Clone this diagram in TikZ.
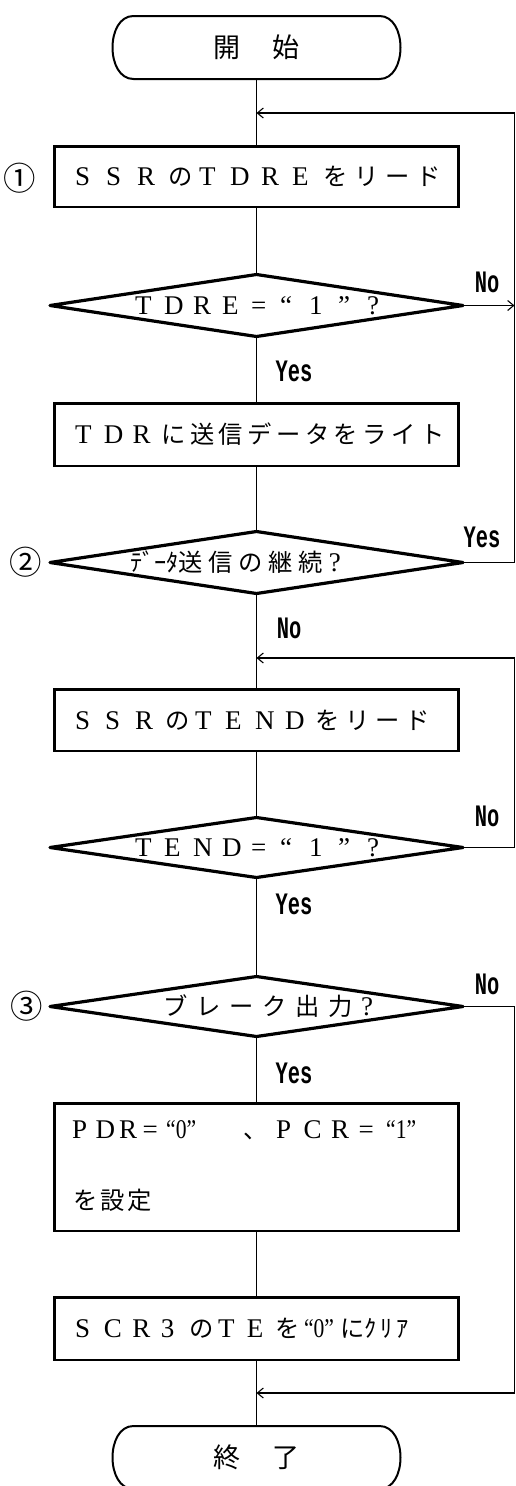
\documentclass[tikz,border=0pt]{standalone}
\usepackage{fontspec}
\usepackage{graphicx}
\usetikzlibrary{shapes.geometric,arrows.meta}
\setmainfont{Liberation Serif}
\newfontfamily\jpfont[Scale=0.9]{Noto Sans CJK JP}
\newfontfamily\ynfam{Liberation Mono}
\newcommand\ynfont{\ynfam\bfseries\fontsize{24}{24}\selectfont}
\newcommand\yn[1]{\scalebox{0.85}[1.3]{#1}}
\newcommand\qt[1]{\scalebox{0.8}[1]{“#1”}}
% automatic switch to the CJK font for CJK characters
\XeTeXinterchartokenstate=1
\newXeTeXintercharclass\CJKclass
\count255="3000
\loop\XeTeXcharclass\count255=\CJKclass\advance\count255 by 1\ifnum\count255<"A000\repeat
\count255="FF00
\loop\XeTeXcharclass\count255=\CJKclass\advance\count255 by 1\ifnum\count255<"FFF0\repeat
\XeTeXinterchartoks 0 \CJKclass = {\jpfont}
\XeTeXinterchartoks 4095 \CJKclass = {\jpfont}
\XeTeXinterchartoks \CJKclass 0 = {\rmfamily}
\XeTeXinterchartoks \CJKclass 4095 = {\rmfamily}
% characters set on a fixed pitch
\newcommand\cells[2]{\begingroup\def\pitch{#1pt}\cellsi#2\relax\endgroup}
\def\cellsi#1{\ifx\relax#1\else\makebox[\pitch][l]{#1}\expandafter\cellsi\fi}
\newcommand\termshape[1]{\draw[termline] ([xshift=21pt]#1.north west) -- ([xshift=-21pt]#1.north east) .. controls ([xshift=7pt]#1.north east) and ([xshift=7pt]#1.south east) .. ([xshift=-21pt]#1.south east) -- ([xshift=21pt]#1.south west) .. controls ([xshift=-7pt]#1.south west) and ([xshift=-7pt]#1.north west) .. cycle;}
\tikzset{
 box/.style={draw, rectangle, line width=2.5pt, minimum width=404pt, inner sep=0pt, outer sep=0pt},
 dia/.style={draw, diamond, line width=3.2pt, line join=round, minimum width=413pt, minimum height=62pt, inner sep=0pt, outer sep=0pt},
 conn/.style={line width=1.1pt},
 arr/.style={conn, -{Straight Barb[length=6pt,width=10pt,line width=1.1pt]}},
 termbox/.style={rectangle, minimum width=288pt, minimum height=63pt, inner sep=0pt, outer sep=0pt, font=\fontsize{30}{30}\selectfont},
 termline/.style={line width=2pt},
 jtext/.style={anchor=west, inner sep=0pt, font=\fontsize{27}{30}\selectfont},
 ynlab/.style={inner sep=0pt, font=\ynfont},
 num/.style={inner sep=0pt, font=\jpfont\fontsize{36}{36}\selectfont},
}
\begin{document}
\begin{tikzpicture}[x=1pt,y=-1pt]
\useasboundingbox (0,0) rectangle (516,1486);
\coordinate (rx) at (514.5,0);
\coordinate (j1) at (256.5,113);
\coordinate (j2) at (256.5,658);
\coordinate (j3) at (256.5,1393);
% shapes
\node[termbox] (start) at (256.5,47.5) {開\hspace{32pt}始};
\termshape{start}
\node[box, minimum height=60.5pt] (b1) at (256.5,176.5) {};
\node[dia] (d1) at (256.5,305.5) {};
\node[box, minimum height=62.5pt] (b2) at (256.5,434.5) {};
\node[dia] (d2) at (256.5,562.5) {};
\node[box, minimum height=61.5pt] (b3) at (256.5,720) {};
\node[dia, minimum height=60pt] (d3) at (256.5,847.5) {};
\node[dia, minimum height=60pt] (d4) at (256.5,1006.5) {};
\node[box, minimum height=127.5pt] (b4) at (256.5,1167) {};
\node[box, minimum height=62.5pt] (b5) at (256.5,1328.5) {};
\node[termbox] (end) at (256.5,1457.5) {終\hspace{32pt}了};
\termshape{end}
% texts
\node[jtext] (t1) at (75,176.5) {\cells{31}{SSRのTDREをリード}};
\node[jtext] (dt1) at (135,305.5) {\cells{29}{TDRE=“1”?}};
\node[jtext] (t2) at (75,434.5) {\cells{28.75}{TDRに送信データをライト}};
\node[jtext] (dt2) at (130,562.5) {ﾃﾞｰﾀ\cells{30}{送信の継続?}};
\node[jtext] (t3) at (75,720) {\cells{30}{SSRのTENDをリード}};
\node[jtext] (dt3) at (135,847.5) {\cells{29}{TEND=“1”?}};
\node[jtext] (dt4) at (163,1006.5) {\cells{33}{ブレーク出力?}};
\node[jtext] (t4a) at (72,1130) {\cells{23.5}{PDR=}\makebox[77pt][l]{\qt{0}}\makebox[33pt][l]{、}\cells{27.5}{PCR=}\qt{1}};
\node[jtext] (t4b) at (73,1200) {\cells{27}{を設定}};
\node[jtext] (t5) at (75,1328.5) {\cells{28.6}{SCR3のTEを{\qt{0}}}\hspace{8pt}に\cells{16}{ｸﾘｱ}};
% step numbers
\node[num] (n1) at (20,178) {①};
\node[num] (n2) at (26,562.5) {②};
\node[num] (n3) at (27,1006.5) {③};
% connectors
\draw[conn] (start.south) -- (b1.north);
\draw[conn] (b1.south) -- (d1.north);
\draw[conn] (d1.south) -- (b2.north);
\draw[conn] (b2.south) -- (d2.north);
\draw[conn] (d2.south) -- (b3.north);
\draw[conn] (b3.south) -- (d3.north);
\draw[conn] (d3.south) -- (d4.north);
\draw[conn] (d4.south) -- (b4.north);
\draw[conn] (b4.south) -- (b5.north);
\draw[conn] (b5.south) -- (end.north);
\draw[arr] (d1.east) -- (d1.east -| rx);
\draw[arr] (d2.east) -- (d2.east -| rx) |- (j1);
\draw[arr] (d3.east) -- (d3.east -| rx) |- (j2);
\draw[arr] (d4.east) -- (d4.east -| rx) |- (j3);
% branch labels
\node[ynlab] (l1n) at (487,282) {\yn{No}};
\node[ynlab] (l1y) at (294,371) {\yn{Yes}};
\node[ynlab] (l2y) at (482,537) {\yn{Yes}};
\node[ynlab] (l2n) at (289,628) {\yn{No}};
\node[ynlab] (l3n) at (487,816) {\yn{No}};
\node[ynlab] (l3y) at (294,904) {\yn{Yes}};
\node[ynlab] (l4n) at (487,984) {\yn{No}};
\node[ynlab] (l4y) at (294,1073) {\yn{Yes}};
\end{tikzpicture}
\end{document}
